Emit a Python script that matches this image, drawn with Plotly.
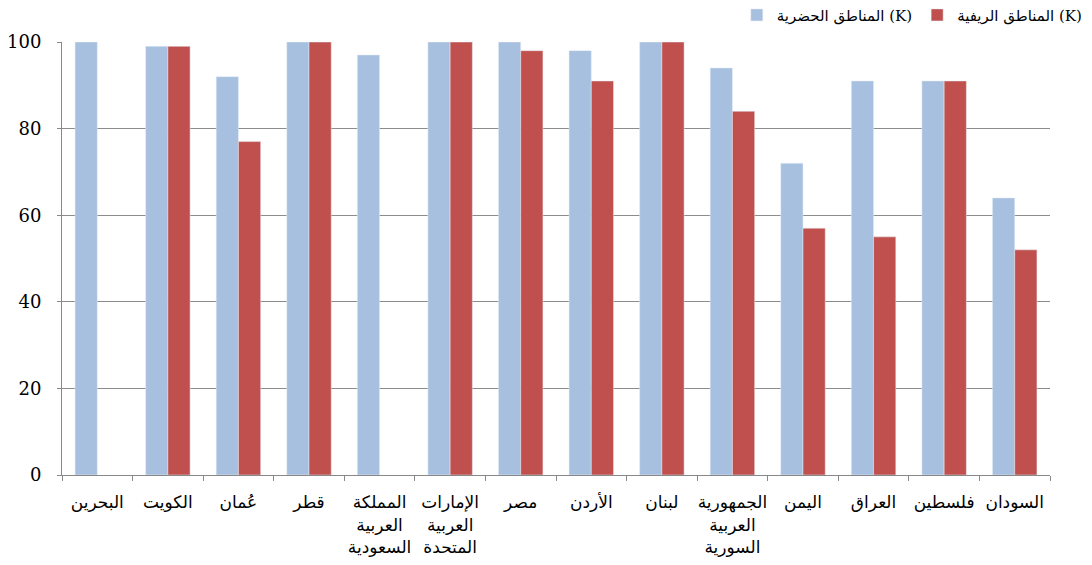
import plotly.graph_objects as go

countries = ["البحرين", "الكويت", "عُمان", "قطر", "المملكة<br>العربية<br>السعودية",
             "الإمارات<br>العربية<br>المتحدة", "مصر", "الأردن", "لبنان",
             "الجمهورية<br>العربية<br>السورية", "اليمن", "العراق", "فلسطين", "السودان"]
urban = [100, 99, 92, 100, 97, 100, 100, 98, 100, 94, 72, 91, 91, 64]
rural = [None, 99, 77, 100, None, 100, 98, 91, 100, 84, 57, 55, 91, 52]
urban_name = "المناطق الحضرية (K)"
rural_name = "المناطق الريفية (K)"
y_ticks = [0, 20, 40, 60, 80, 100]

fig = go.Figure()
fig.add_trace(go.Bar(x=countries, y=urban, name=urban_name, marker_color="#A8C0DF"))
fig.add_trace(go.Bar(x=countries, y=rural, name=rural_name, marker_color="#C0504D"))

fig.update_layout(
    width=1092, height=565,
    margin=dict(l=62, r=42, t=42, b=90, autoexpand=False),
    paper_bgcolor="white", plot_bgcolor="white",
    barmode="group", bargap=0.37, bargroupgap=0,
    font=dict(family="DejaVu Serif", color="black"),
    legend=dict(orientation="h", x=0.683, xanchor="left", y=1.062, yanchor="middle",
                font=dict(size=15, family="DejaVu Serif, DejaVu Sans"),
                traceorder="normal", itemwidth=30,
                bgcolor="rgba(0,0,0,0)"),
    showlegend=True,
)
fig.update_xaxes(
    tickson="boundaries", ticks="outside", ticklen=5, tickcolor="#888888",
    showline=True, linecolor="#888888", linewidth=1,
    tickfont=dict(size=17, family="DejaVu Sans", color="black"),
    tickangle=0, automargin=False, ticklabelstandoff=12,
)
fig.update_yaxes(
    range=[0, 100], tickvals=y_ticks, showgrid=True, gridcolor="#8C8C8C", gridwidth=1,
    showline=True, linecolor="#888888", linewidth=1,
    ticks="outside", ticklen=4, tickcolor="#888888",
    tickfont=dict(size=18, family="DejaVu Serif", color="black"),
    zeroline=False, automargin=False, ticklabelstandoff=12,
)

fig.write_html("out.html")
